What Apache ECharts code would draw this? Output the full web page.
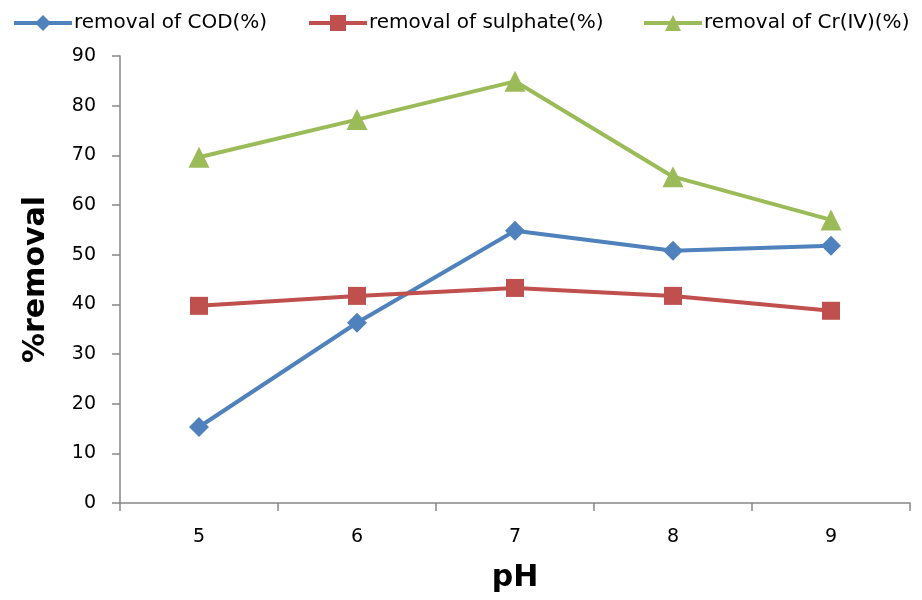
<!DOCTYPE html>
<html>
<head>
<meta charset="utf-8">
<script src="https://cdn.jsdelivr.net/npm/echarts@6/dist/echarts.min.js"></script>
<style>
  html, body { margin: 0; padding: 0; background: #fff; }
  #main { width: 922px; height: 600px; }
</style>
</head>
<body>
<div id="main"></div>
<script>
var main = echarts.init(document.getElementById('main'));

// pH values
var phList = ['5', '6', '7', '8', '9'];
// removal values
var codRemoval = [15.3, 36.3, 54.8, 50.8, 51.8];
var sulphateRemoval = [39.7, 41.7, 43.3, 41.7, 38.7];
var crRemoval = [69.6, 77.2, 84.9, 65.7, 57.0];

var names = ['removal of COD(%)', 'removal of sulphate(%)', 'removal of Cr(IV)(%)'];
var colors = ['#4F81BD', '#C0504D', '#9BBB59'];

var legendText = {
	fontFamily: 'DejaVu Sans, sans-serif',
	fontSize: 20,
	color: '#000',
	padding: [0, 0, 0, -3]
};

function legendAt(name, left) {
	return {
		data: [name],
		left: left,
		top: 8,
		itemWidth: 58,
		itemHeight: 20,
		lineStyle: { width: 4 },
		textStyle: legendText
	};
}

option = {
	animation: false,
	backgroundColor: '#fff',
	legend: [
		legendAt(names[0], 7),
		legendAt(names[1], 302),
		legendAt(names[2], 637)
	],
	grid: {
		left: 120,
		right: 12,
		top: 56,
		bottom: 97,
		containLabel: false,
		outerBoundsMode: 'none'
	},
	xAxis: {
		type: 'category',
		data: phList,
		boundaryGap: true,
		name: 'pH',
		nameLocation: 'middle',
		nameGap: 60,
		nameTextStyle: {
			fontFamily: 'DejaVu Sans, sans-serif',
			fontWeight: 'bold',
			fontSize: 30,
			color: '#000'
		},
		axisLine: { lineStyle: { color: '#868686', width: 1.5 } },
		axisTick: { show: true, length: 8, alignWithLabel: false, lineStyle: { color: '#868686', width: 1.5 } },
		axisLabel: {
			margin: 25,
			fontFamily: 'DejaVu Sans, sans-serif',
			fontSize: 19,
			color: '#000'
		},
		splitLine: { show: false }
	},
	yAxis: {
		type: 'value',
		min: 0,
		max: 90,
		interval: 10,
		name: '%removal',
		nameLocation: 'middle',
		nameGap: 69,
		nameTextStyle: {
			fontFamily: 'DejaVu Sans, sans-serif',
			fontWeight: 'bold',
			fontSize: 30,
			color: '#000'
		},
		axisLine: { show: true, lineStyle: { color: '#868686', width: 1.5 } },
		axisTick: { show: true, length: 8, lineStyle: { color: '#868686', width: 1.5 } },
		axisLabel: {
			margin: 24,
			fontFamily: 'DejaVu Sans, sans-serif',
			fontSize: 19,
			color: '#000'
		},
		splitLine: { show: false }
	},
	series: [{
		name: names[0],
		type: 'line',
		data: codRemoval,
		symbol: 'diamond',
		symbolSize: 20,
		itemStyle: { color: colors[0] },
		lineStyle: { color: colors[0], width: 4 }
	}, {
		name: names[1],
		type: 'line',
		data: sulphateRemoval,
		symbol: 'rect',
		symbolSize: 18,
		itemStyle: { color: colors[1] },
		lineStyle: { color: colors[1], width: 4 }
	}, {
		name: names[2],
		type: 'line',
		data: crRemoval,
		symbol: 'triangle',
		symbolSize: 21,
		itemStyle: { color: colors[2] },
		lineStyle: { color: colors[2], width: 4 }
	}]
};
main.setOption(option);
</script>
</body>
</html>
